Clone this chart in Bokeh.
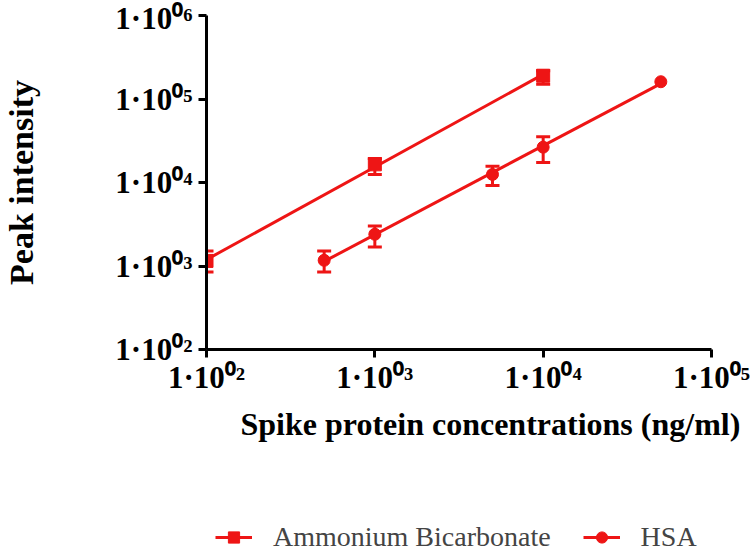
import numpy as np
from bokeh.plotting import figure
from bokeh.layouts import column
from bokeh.models import (Range1d, FixedTicker, Whisker, TeeHead, ColumnDataSource,
                          Legend, LegendItem, CustomJSTickFormatter, Title)
from bokeh.embed import file_html
from bokeh.resources import INLINE

# ---------------- data ----------------
ab_conc = [100, 1000, 10000]
ab_int = [1150, 16500, 190000]
ab_lo = [850, 12500, 150000]
ab_hi = [1510, 19400, 218000]

hsa_conc = [500, 1000, 5000, 10000, 50000]
hsa_int = [1170, 2400, 12500, 26500, 161000]
hsa_err_conc = [500, 1000, 5000, 10000]
hsa_lo = [850, 1690, 9200, 17400]
hsa_hi = [1510, 3010, 15600, 35300]

x_ticks = [100, 1000, 10000, 100000]
x_tick_labels = ["1·10⁰²", "1·10⁰³", "1·10⁰⁴", "1·10⁰⁵"]
y_ticks = [100, 1000, 10000, 100000, 1000000]
y_tick_labels = ["1·10⁰²", "1·10⁰³", "1·10⁰⁴", "1·10⁰⁵", "1·10⁰⁶"]

series_names = ["Ammonium Bicarbonate", "HSA"]
x_title = "Spike protein concentrations (ng/ml)"
y_title = "Peak intensity"

RED = "#ee1515"
FONT = "Liberation Serif"

# ---------------- main figure ----------------
p = figure(width=754, height=516, x_axis_type="log", y_axis_type="log",
           x_range=Range1d(100, 1e5), y_range=Range1d(100, 1e6),
           output_backend="svg", toolbar_location=None,
           min_border_left=206, min_border_right=43, min_border_top=15,
           min_border_bottom=167)
p.outline_line_color = None
p.grid.visible = False
p.background_fill_color = "white"
p.border_fill_color = "white"


def fit_line(xs, ys):
    lx, ly = np.log10(xs), np.log10(ys)
    k, b = np.polyfit(lx, ly, 1)
    xx = np.array([min(xs), max(xs)], dtype=float)
    return xx, 10 ** (k * np.log10(xx) + b)


def whisker(xs, lo, hi):
    return Whisker(source=ColumnDataSource(dict(x=xs, lo=lo, hi=hi)),
                   base="x", lower="lo", upper="hi", line_color=RED, line_width=3,
                   upper_head=TeeHead(size=14, line_color=RED, line_width=3),
                   lower_head=TeeHead(size=14, line_color=RED, line_width=3))


# Ammonium Bicarbonate
fx, fy = fit_line(ab_conc, ab_int)
p.line(fx, fy, line_color=RED, line_width=3)
p.add_layout(whisker(ab_conc, ab_lo, ab_hi))
p.scatter(ab_conc, ab_int, marker="square", size=13, fill_color=RED, line_color=RED)

# HSA
fx2, fy2 = fit_line(hsa_conc, hsa_int)
p.line(fx2, fy2, line_color=RED, line_width=3)
p.add_layout(whisker(hsa_err_conc, hsa_lo, hsa_hi))
p.scatter(hsa_conc, hsa_int, marker="circle", size=12, fill_color=RED, line_color=RED)

# ---------------- axes ----------------
fmt_code = """
const i = t.findIndex(v => Math.abs(Math.log10(v) - Math.log10(tick)) < 1e-6);
return i >= 0 ? l[i] : '';
"""
p.xaxis.ticker = FixedTicker(ticks=x_ticks, minor_ticks=[])
p.yaxis.ticker = FixedTicker(ticks=y_ticks, minor_ticks=[])
p.xaxis.formatter = CustomJSTickFormatter(args=dict(t=x_ticks, l=x_tick_labels), code=fmt_code)
p.yaxis.formatter = CustomJSTickFormatter(args=dict(t=y_ticks, l=y_tick_labels), code=fmt_code)

for ax in (p.xaxis, p.yaxis):
    ax.axis_line_width = 3
    ax.axis_line_color = "black"
    ax.major_tick_line_width = 3
    ax.major_tick_line_color = "black"
    ax.major_tick_out = 8
    ax.major_tick_in = 0
    ax.minor_tick_out = 0
    ax.minor_tick_in = 0
    ax.major_label_text_font = FONT
    ax.major_label_text_font_style = "bold"
    ax.major_label_text_font_size = "31px"
    ax.major_label_text_color = "black"
    ax.axis_label_text_font = FONT
    ax.axis_label_text_font_style = "bold"
    ax.axis_label_text_font_size = "34px"
    ax.axis_label_text_color = "black"

p.yaxis.axis_label = y_title
p.xaxis.major_label_standoff = 2
p.yaxis.major_label_standoff = 6
p.yaxis.axis_label_standoff = 72

p.add_layout(Title(text=x_title, align="left", offset=34, standoff=12,
                   text_font=FONT, text_font_size="32px", text_font_style="bold",
                   text_color="black"), "below")

# ---------------- legend strip (its frame is aligned with the main frame) ----------------
p2 = figure(width=754, height=40, output_backend="svg", toolbar_location=None,
            x_range=Range1d(0, 1), y_range=Range1d(0, 1),
            x_axis_location=None, y_axis_location=None, min_border=0)
p2.outline_line_color = None
p2.grid.visible = False
# same series, outside the strip's ranges: only their legend glyphs show
l1 = p2.line(ab_conc, ab_int, line_color=RED, line_width=3)
s1 = p2.scatter(ab_conc, ab_int, marker="square", fill_color=RED, line_color=RED)
l2 = p2.line(hsa_conc, hsa_int, line_color=RED, line_width=3)
s2 = p2.scatter(hsa_conc, hsa_int, marker="circle", fill_color=RED, line_color=RED)

legend = Legend(items=[LegendItem(label=series_names[0], renderers=[l1, s1]),
                       LegendItem(label=series_names[1], renderers=[l2, s2])],
                location=(9, 3), orientation="horizontal",
                label_text_font=FONT, label_text_font_size="28px",
                glyph_width=37, glyph_height=28, label_standoff=21, spacing=32,
                padding=0, margin=0, border_line_color=None,
                background_fill_alpha=0)
p2.add_layout(legend)

layout = column(p, p2, spacing=0)
open("out.html", "w").write(file_html(layout, INLINE))
